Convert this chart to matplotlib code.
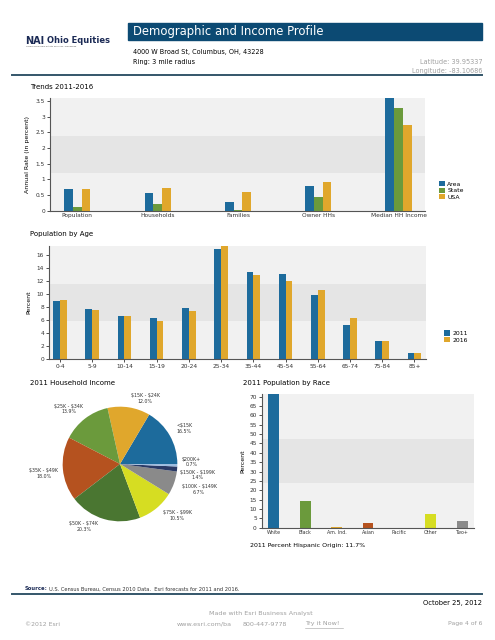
"""
Esri demographic and income profile page, page 4.
"""

import numpy as np
import matplotlib
matplotlib.use("Agg")
import matplotlib.pyplot as plt
from matplotlib.patches import Rectangle

plt.rcParams['font.family'] = ['DejaVu Sans']
plt.rcParams['text.parse_math'] = False

# trends 2011-2016
trend_cats = ["Population", "Households", "Families", "Owner HHs", "Median HH Income"]
trend_area = [0.68, 0.56, 0.27, 0.79, 3.6]
trend_state = [0.11, 0.20, 0.02, 0.44, 3.29]
trend_usa = [0.68, 0.72, 0.59, 0.92, 2.74]

# population by age
age_cats = ["0-4", "5-9", "10-14", "15-19", "20-24", "25-34", "35-44",
            "45-54", "55-64", "65-74", "75-84", "85+"]
age_2011 = [9.0, 7.7, 6.6, 6.3, 7.9, 17.0, 13.5, 13.2, 9.9, 5.3, 2.8, 0.9]
age_2016 = [9.1, 7.6, 6.6, 5.9, 7.5, 17.5, 13.0, 12.0, 10.6, 6.4, 2.8, 1.0]

# household income
inc_labels = ["<$15K", "$15K - $24K", "$25K - $34K", "$35K - $49K", "$50K - $74K",
              "$75K - $99K", "$100K - $149K", "$150K - $199K", "$200K+"]
inc_values = [16.5, 12.0, 13.9, 18.0, 20.3, 10.5, 6.7, 1.4, 0.7]

# population by race
race_cats = ["White", "Black", "Am. Ind.", "Asian", "Pacific", "Other", "Two+"]
race_values = [71.3, 14.4, 0.4, 2.5, 0.1, 7.5, 3.8]

BLUE = "#1d6b9c"
GREEN = "#6b9a3c"
GOLD = "#e0a72c"
inc_colors = [BLUE, GOLD, GREEN, "#b5521f", "#4a7631", "#d6dd22", "#8a8a8a", "#2a3a66", "#9dbde0"]
race_colors = [BLUE, GREEN, GOLD, "#b5521f", "#4a7631", "#d6dd22", "#8a8a8a"]

W, H = 495, 640
fig = plt.figure(figsize=(W / 100, H / 100), dpi=100)


def box(x0, y0, x1, y1):
    # pixel box (top-left origin) -> figure fraction rect
    return [x0 / W, 1 - y1 / H, (x1 - x0) / W, (y1 - y0) / H]


def fx(x):
    return x / W


def fy(y):
    return 1 - y / H


def style_axes(ax, ymax):
    third = ymax / 3
    ax.axhspan(0, third, color="#f1f1f1", zorder=0, lw=0)
    ax.axhspan(third, 2 * third, color="#e5e5e5", zorder=0, lw=0)
    ax.axhspan(2 * third, ymax, color="#f1f1f1", zorder=0, lw=0)
    ax.set_ylim(0, ymax)
    for s in ("top", "right"):
        ax.spines[s].set_visible(False)
    for s in ("left", "bottom"):
        ax.spines[s].set_color("#555555")
        ax.spines[s].set_linewidth(0.8)
    ax.tick_params(length=2, width=0.6, colors="#333333", labelsize=4.2, pad=1.5)


leg_kw = dict(frameon=False, fontsize=4.4, handlelength=0.9, handleheight=0.9,
              handletextpad=0.4, labelspacing=0.15, borderpad=0)

# header
fig.patches.append(Rectangle((fx(128), fy(40)), fx(482) - fx(128), fy(23) - fy(40),
                             transform=fig.transFigure, color="#0c4a73", zorder=0))
fig.text(fx(133), fy(31.5), "Demographic and Income Profile", color="white",
         fontsize=8.4, va="center")
fig.text(fx(25), fy(40.5), "NAI", fontsize=7, fontweight="bold", color="#1b2a55", va="center")
fig.text(fx(47), fy(40.5), "Ohio Equities", fontsize=6.0, fontweight="bold", color="#1b2a55",
         va="center")
fig.text(fx(26), fy(46), "Commercial Real Estate Services, Worldwide", fontsize=1.6,
         color="#555555", va="center")
fig.text(fx(133), fy(52), "4000 W Broad St, Columbus, OH, 43228", fontsize=4.7, va="center")
fig.text(fx(133), fy(62), "Ring: 3 mile radius", fontsize=4.7, va="center")
fig.text(fx(482), fy(62), "Latitude: 39.95337", fontsize=4.7, color="#a0a0a0",
         va="center", ha="right")
fig.text(fx(482), fy(71), "Longitude: -83.10686", fontsize=4.7, color="#a0a0a0",
         va="center", ha="right")
fig.add_artist(plt.Line2D([fx(12), fx(482)], [fy(75), fy(75)], color="#34566a", lw=1.4))

# trends chart
fig.text(fx(30), fy(87), "Trends 2011-2016", fontsize=5, va="center")
ax1 = fig.add_axes(box(50, 98, 425, 210.7))
x = np.arange(len(trend_cats))
bw = 0.108
ax1.bar(x - bw, trend_area, bw, color=BLUE, label="Area", zorder=2)
ax1.bar(x, trend_state, bw, color=GREEN, label="State", zorder=2)
ax1.bar(x + bw, trend_usa, bw, color=GOLD, label="USA", zorder=2)
style_axes(ax1, 3.6)
ax1.set_xlim(-0.34, 4.33)
ax1.set_xticks(x, trend_cats)
ax1.set_yticks([0, 0.5, 1, 1.5, 2, 2.5, 3, 3.5], ["0", "0.5", "1", "1.5", "2", "2.5", "3", "3.5"])
ax1.tick_params(axis="x", length=0)
ax1.set_ylabel("Annual Rate (in percent)", fontsize=4.5, labelpad=4)
ax1.legend(loc="center left", bbox_to_anchor=(1.03, 0.18), **leg_kw)

# age chart
fig.text(fx(30), fy(234), "Population by Age", fontsize=5, va="center")
ax2 = fig.add_axes(box(49, 245.7, 426, 359.3))
x = np.arange(len(age_cats))
bw = 0.21
ax2.bar(x - bw / 2, age_2011, bw, color=BLUE, label="2011", zorder=2)
ax2.bar(x + bw / 2, age_2016, bw, color=GOLD, label="2016", zorder=2)
style_axes(ax2, 17.5)
ax2.set_xlim(-0.34, 11.36)
ax2.set_xticks(x, age_cats)
ax2.set_yticks(range(0, 17, 2))
ax2.set_ylabel("Percent", fontsize=4.5, labelpad=4)
ax2.legend(loc="center left", bbox_to_anchor=(1.04, 0.2), **leg_kw)

# household income pie
fig.text(fx(30), fy(383), "2011 Household Income", fontsize=5, va="center")
ax3 = fig.add_axes(box(34, 378, 206, 550))
ax3.pie(inc_values, colors=inc_colors, startangle=0, counterclock=True,
        wedgeprops=dict(linewidth=0))
ax3.set_xlim(-1.5, 1.5)
ax3.set_ylim(-1.5, 1.5)
ax3.set_aspect("equal")
# label placement (angle in degrees, distance in radii)
label_place = [(29, 1.28), (69, 1.22), (133, 1.31), (187, 1.34), (240, 1.26),
               (318, 1.34), (342, 1.45), (352, 1.37), (1.5, 1.25)]
for lab, val, (ang, dist) in zip(inc_labels, inc_values, label_place):
    a = np.deg2rad(ang)
    ax3.text(dist * np.cos(a), dist * np.sin(a), f"{lab}\n{val:.1f}%", fontsize=3.4,
             ha="center", va="center", color="#333333", linespacing=1.1)

# race chart
fig.text(fx(243), fy(383), "2011 Population by Race", fontsize=5, va="center")
ax4 = fig.add_axes(box(261.7, 394, 474, 527.7))
x = np.arange(len(race_cats))
ax4.bar(x, race_values, 0.35, color=race_colors, zorder=2)
style_axes(ax4, 71.4)
ax4.set_xlim(-0.39, 6.38)
ax4.set_xticks(x, race_cats)
ax4.tick_params(axis="x", labelsize=3.4, length=0)
ax4.set_yticks(range(0, 71, 5))
ax4.set_ylabel("Percent", fontsize=4.5, labelpad=3)
fig.text(fx(250), fy(545), "2011 Percent Hispanic Origin: 11.7%", fontsize=4.5, va="center")

# footer
fig.text(fx(25), fy(589), "Source:", fontsize=3.8, va="center", color="#1b2a55",
         fontweight="bold")
fig.text(fx(49), fy(589), "U.S. Census Bureau, Census 2010 Data.  Esri forecasts for 2011 and 2016.",
         fontsize=3.7, va="center", color="#333333")
fig.add_artist(plt.Line2D([fx(12), fx(482)], [fy(594), fy(594)], color="#34566a", lw=1.4))
fig.text(fx(482), fy(603), "October 25, 2012", fontsize=4.9, va="center", ha="right")
fig.text(fx(261), fy(613), "Made with Esri Business Analyst", fontsize=4.6, va="center",
         ha="center", color="#a0a0a0")
fig.text(fx(25), fy(624), "\u00a92012 Esri", fontsize=4.4, va="center", color="#a0a0a0")
fig.text(fx(177), fy(624), "www.esri.com/ba", fontsize=4.6, va="center", color="#a0a0a0")
fig.text(fx(243), fy(624), "800-447-9778", fontsize=4.6, va="center", color="#a0a0a0")
fig.text(fx(305), fy(624), "Try it Now!", fontsize=4.6, va="center", color="#a0a0a0")
fig.add_artist(plt.Line2D([fx(305), fx(343)], [fy(628), fy(628)], color="#a0a0a0", lw=0.4))
fig.text(fx(482), fy(624), "Page 4 of 6", fontsize=4.4, va="center", ha="right", color="#a0a0a0")

fig.savefig("out.png", dpi=100)
